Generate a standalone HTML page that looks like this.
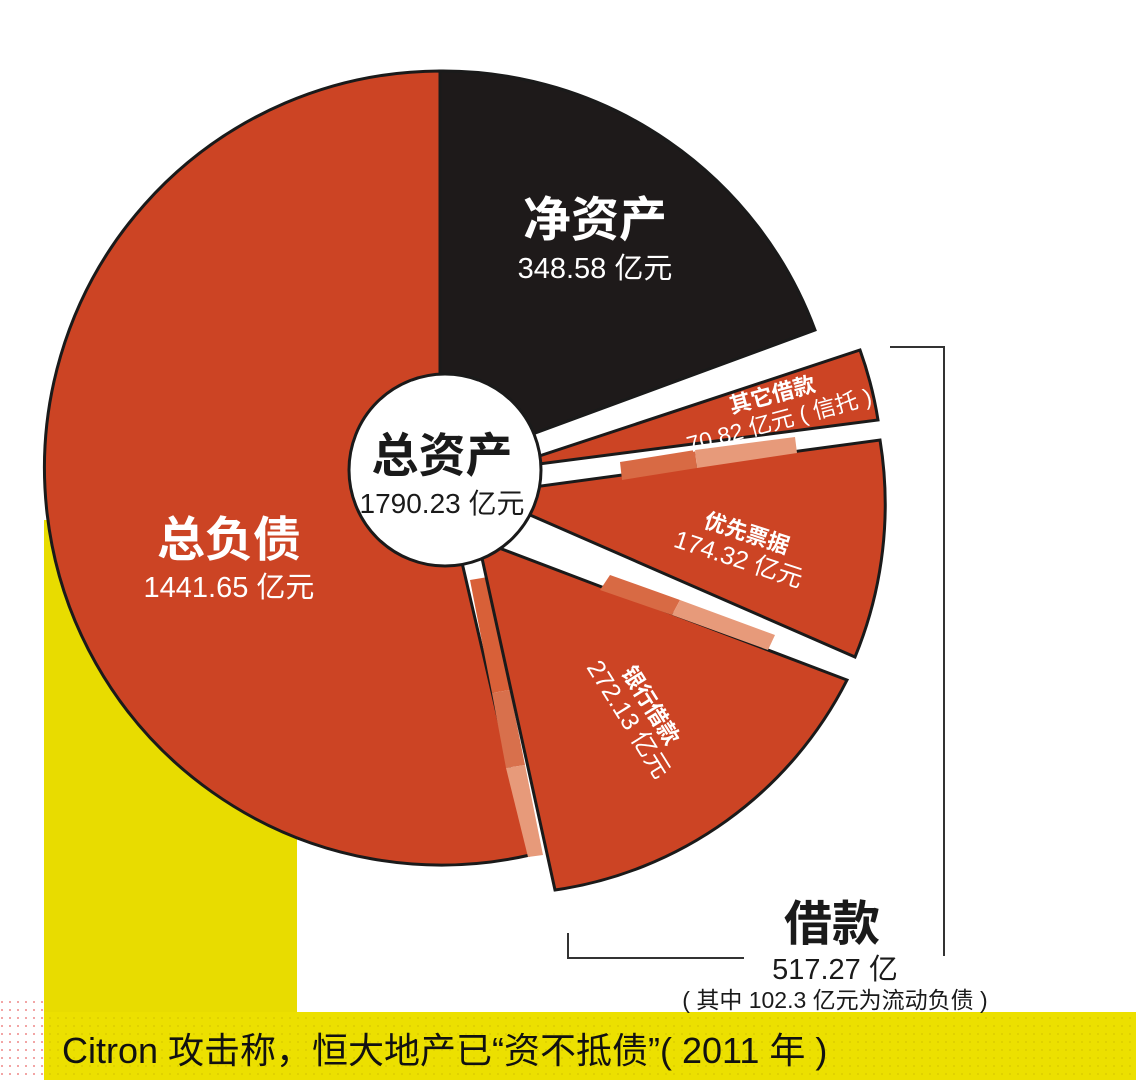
<!DOCTYPE html>
<html><head><meta charset="utf-8"><style>
html,body{margin:0;padding:0;background:#fff;}
svg{display:block;}
text{font-family:"Liberation Sans","Noto Sans CJK SC",sans-serif;}
</style></head><body>
<svg width="1136" height="1080" viewBox="0 0 1136 1080" xmlns="http://www.w3.org/2000/svg">
<defs>
<pattern id="dots" width="8" height="8" patternUnits="userSpaceOnUse"><circle cx="2" cy="2" r="1" fill="#e88"/></pattern>
<pattern id="ydots" width="8" height="8" patternUnits="userSpaceOnUse"><rect width="8" height="8" fill="#ece000"/><circle cx="2" cy="2" r="0.9" fill="#d8c800"/></pattern>
</defs>
<rect x="0" y="1000" width="45" height="80" fill="url(#dots)"/>
<rect x="44" y="520" width="253" height="500" fill="#e8dc00"/>
<rect x="44" y="1012" width="1092" height="68" fill="url(#ydots)"/>
<text x="62" y="1063" font-size="36" fill="#111">Citron 攻击称，恒大地产已“资不抵债”( 2011 年 )</text>

<path d="M440,468 L440,71 A397,397 0 1 0 530,855 Z" fill="#cc4424" stroke="#1a1a1a" stroke-width="3"/>
<path d="M440,468 L440,71 A397,397 0 0 1 815,330 Z" fill="#1e1a1a" stroke="#1a1a1a" stroke-width="3"/>
<polygon points="470,580 488,577 510,690 492,693" fill="#d86038"/>
<polygon points="492,693 510,690 525,765 506,768" fill="#d8704c"/>
<polygon points="506,768 525,765 543,855 528,857" fill="#e79a7a"/>

<path d="M500,469 L860,350 A385,385 0 0 1 878,420 Z" fill="#cc4424" stroke="#1a1a1a" stroke-width="3"/>
<path d="M482,494 L880,440 A400,400 0 0 1 855,657 Z" fill="#cc4424" stroke="#1a1a1a" stroke-width="3"/>
<path d="M478,540 L847,680 A390,390 0 0 1 555,890 Z" fill="#cc4424" stroke="#1a1a1a" stroke-width="3"/>
<polygon points="620,462 695,450 697,468 622,480" fill="#d86a44"/>
<polygon points="695,450 795,437 797,453 697,468" fill="#e79a7a"/>
<polygon points="610,575 680,600 672,615 600,590" fill="#d86a44"/>
<polygon points="680,600 775,635 768,650 672,615" fill="#e79a7a"/>

<circle cx="445" cy="470" r="96" fill="#fff" stroke="#1a1a1a" stroke-width="3"/>
<text x="442" y="472" font-size="47" font-weight="bold" text-anchor="middle" fill="#1a1a1a">总资产</text>
<text x="442" y="513" font-size="28" text-anchor="middle" fill="#1a1a1a">1790.23 亿元</text>

<text x="595" y="236" font-size="48" font-weight="bold" text-anchor="middle" fill="#fff">净资产</text>
<text x="595" y="278" font-size="29" text-anchor="middle" fill="#fff">348.58 亿元</text>
<text x="229" y="556" font-size="48" font-weight="bold" text-anchor="middle" fill="#fff">总负债</text>
<text x="229" y="597" font-size="29" text-anchor="middle" fill="#fff">1441.65 亿元</text>

<g transform="translate(775,405) rotate(-15)" fill="#fff" text-anchor="middle">
<text x="0" y="-3" font-size="22" font-weight="bold">其它借款</text>
<text x="0" y="24" font-size="23">70.82 亿元 ( 信托 )</text>
</g>
<g transform="translate(742,548) rotate(18)" fill="#fff" text-anchor="middle">
<text x="0" y="-8" font-size="22" font-weight="bold">优先票据</text>
<text x="0" y="20" font-size="25">174.32 亿元</text>
</g>
<g transform="translate(640,712) rotate(58)" fill="#fff" text-anchor="middle">
<text x="0" y="-5" font-size="22" font-weight="bold">银行借款</text>
<text x="0" y="22" font-size="25">272.13 亿元</text>
</g>

<polyline points="890,347 944,347 944,956" fill="none" stroke="#333" stroke-width="2"/>
<polyline points="568,933 568,958 744,958" fill="none" stroke="#333" stroke-width="2"/>
<text x="832" y="940" font-size="48" font-weight="bold" text-anchor="middle" fill="#1a1a1a">借款</text>
<text x="835" y="979" font-size="29" text-anchor="middle" fill="#1a1a1a">517.27 亿</text>
<text x="835" y="1008" font-size="23" text-anchor="middle" fill="#1a1a1a">( 其中 102.3 亿元为流动负债 )</text>
</svg>
</body></html>
